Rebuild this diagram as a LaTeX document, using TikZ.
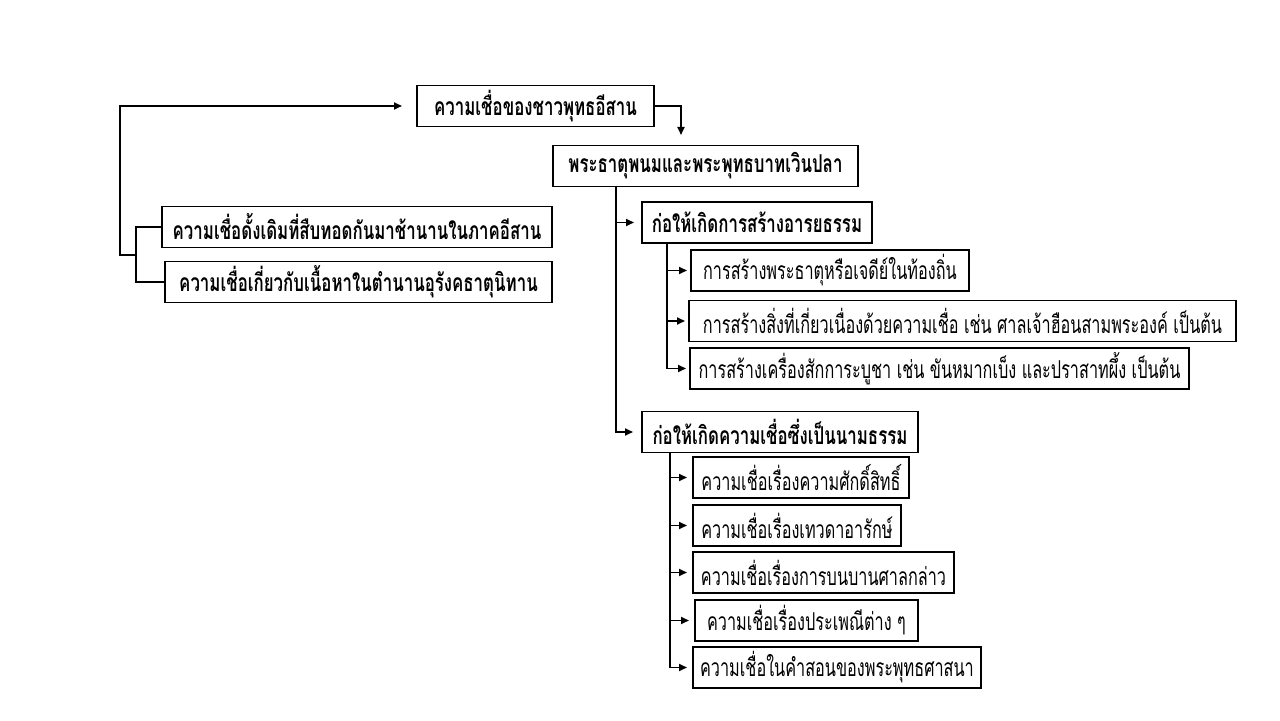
\documentclass[tikz,border=0pt]{standalone}
\usepackage{fontspec}
\newfontfamily\thaifont[Script=Thai,FakeStretch=0.66,BoldFeatures={FakeStretch=0.685}]{Loma}
\usetikzlibrary{arrows.meta}
\tikzset{
  box/.style={draw,line width=1.1pt,anchor=west,minimum height=0.82cm,inner sep=2pt,font=\thaifont\fontsize{14}{16}\selectfont},
  boldbox/.style={box,font=\thaifont\bfseries\fontsize{14}{16}\selectfont},
  link/.style={line width=1pt,-{Triangle[length=0.16cm,width=0.14cm]}},
  plain/.style={line width=1pt}
}
\begin{document}
\begin{tikzpicture}
\useasboundingbox (0,0) rectangle (25.6,14.4);
\node[boldbox,minimum width=4.74cm] (root) at (8.32,12.28) {ความเชื่อของชาวพุทธอีสาน};
\node[boldbox,minimum width=6.10cm] (phanom) at (11.04,11.08) {พระธาตุพนมและพระพุทธบาทเวินปลา};
\node[boldbox,minimum width=4.60cm] (civil) at (12.82,9.95) {ก่อให้เกิดการสร้างอารยธรรม};
\node[box,minimum width=5.56cm] (civa) at (13.80,8.99) {การสร้างพระธาตุหรือเจดีย์ในท้องถิ่น};
\node[box,minimum width=10.94cm] (civb) at (13.76,7.98) {การสร้างสิ่งที่เกี่ยวเนื่องด้วยความเชื่อ เช่น ศาลเจ้าฮือนสามพระองค์ เป็นต้น};
\node[box,minimum width=9.98cm] (civc) at (13.78,7.03) {การสร้างเครื่องสักการะบูชา เช่น ขันหมากเบ็ง และปราสาทผึ้ง เป็นต้น};
\node[boldbox,minimum width=5.52cm] (abst) at (12.82,5.76) {ก่อให้เกิดความเชื่อซึ่งเป็นนามธรรม};
\node[box,minimum width=4.32cm] (absa) at (13.84,4.85) {ความเชื่อเรื่องความศักดิ์สิทธิ์};
\node[box,minimum width=4.16cm] (absb) at (13.84,3.89) {ความเชื่อเรื่องเทวดาอารักษ์};
\node[box,minimum width=5.22cm] (absc) at (13.84,2.95) {ความเชื่อเรื่องการบนบานศาลกล่าว};
\node[box,minimum width=4.46cm] (absd) at (13.88,1.99) {ความเชื่อเรื่องประเพณีต่าง ๆ};
\node[box,minimum width=5.76cm] (abse) at (13.84,1.05) {ความเชื่อในคำสอนของพระพุทธศาสนา};
\node[boldbox,minimum width=7.80cm] (oldbelief) at (3.22,9.86) {ความเชื่อดั้งเดิมที่สืบทอดกันมาช้านานในภาคอีสาน};
\node[boldbox,minimum width=7.74cm] (legend) at (3.28,8.76) {ความเชื่อเกี่ยวกับเนื้อหาในตำนานอุรังคธาตุนิทาน};
\coordinate (drop) at (13.62,11.70);
\coordinate (trunk) at (12.32,10.68);
\coordinate (civtrunk) at (13.34,9.54);
\coordinate (abstrunk) at (13.40,5.34);
\coordinate (bracket) at (2.72,9.30);
\coordinate (bend) at (2.40,9.30);
\draw[link] (root.east) -| (drop);
\draw[link,shorten >=0.14cm] (trunk) |- (civil.west);
\draw[link,shorten >=0.16cm] (trunk) |- (abst.west);
\draw[link,shorten >=0.06cm] (civtrunk) |- (civa.west);
\draw[link,shorten >=0.06cm] (civtrunk) |- (civb.west);
\draw[link,shorten >=0.06cm] (civtrunk) |- (civc.west);
\draw[link,shorten >=0.10cm] (abstrunk) |- (absa.west);
\draw[link,shorten >=0.10cm] (abstrunk) |- (absb.west);
\draw[link,shorten >=0.10cm] (abstrunk) |- (absc.west);
\draw[link,shorten >=0.10cm] (abstrunk) |- (absd.west);
\draw[link,shorten >=0.10cm] (abstrunk) |- (abse.west);
\draw[plain] (oldbelief.west) -| (bracket) |- (legend.west);
\draw[link,shorten >=0.28cm] (bracket) -- (bend) |- (root.west);
\end{tikzpicture}
\end{document}
